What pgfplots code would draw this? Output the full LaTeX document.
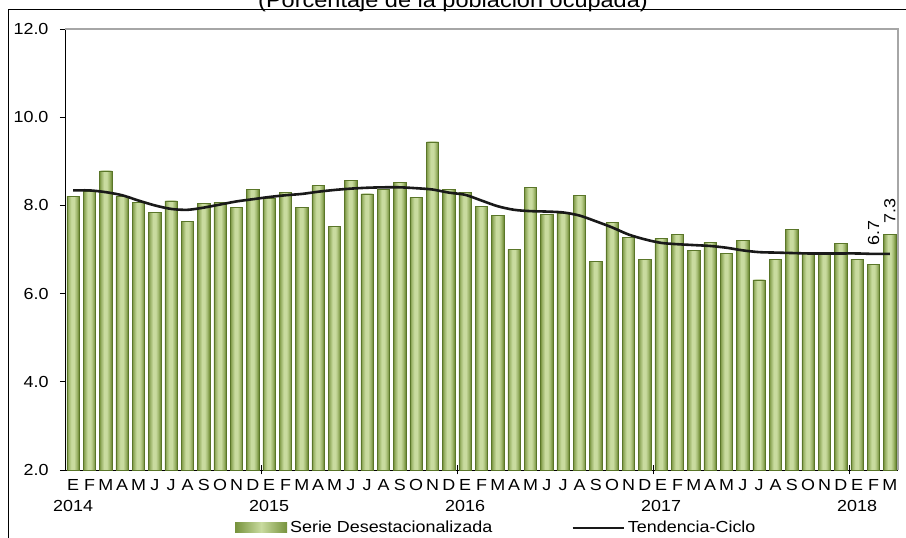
\documentclass[border=0pt]{standalone}
\usepackage{fontspec}
\setmainfont{Liberation Sans}[FakeStretch=1.12]
\usepackage{pgfplots}
\pgfplotsset{compat=1.18}
\usepackage{pgfplotstable}
\definecolor{bardark}{HTML}{76923C}
\definecolor{barlight}{HTML}{C9DB9F}
\definecolor{baredge}{HTML}{5A7629}
\definecolor{framegray}{HTML}{A6A6A6}

\pgfplotstableread{
x y
0 8.21
1 8.32
2 8.78
3 8.20
4 8.06
5 7.85
6 8.10
7 7.63
8 8.05
9 8.07
10 7.95
11 8.36
12 8.17
13 8.29
14 7.96
15 8.45
16 7.52
17 8.56
18 8.26
19 8.37
20 8.53
21 8.18
22 9.44
23 8.37
24 8.29
25 7.97
26 7.78
27 7.00
28 8.41
29 7.80
30 7.81
31 8.23
32 6.72
33 7.61
34 7.28
35 6.77
36 7.25
37 7.34
38 6.98
39 7.16
40 6.91
41 7.21
42 6.31
43 6.78
44 7.45
45 6.91
46 6.91
47 7.13
48 6.78
49 6.66
50 7.34
}\bars

\pgfplotstableread{
x y
0 8.34
1 8.34
2 8.30
3 8.23
4 8.11
5 8.00
6 7.92
7 7.90
8 7.95
9 8.02
10 8.09
11 8.14
12 8.19
13 8.23
14 8.26
15 8.31
16 8.35
17 8.38
18 8.40
19 8.41
20 8.41
21 8.39
22 8.36
23 8.29
24 8.24
25 8.11
26 7.98
27 7.90
28 7.87
29 7.86
30 7.84
31 7.77
32 7.64
33 7.50
34 7.34
35 7.23
36 7.15
37 7.12
38 7.10
39 7.08
40 7.04
41 6.98
42 6.94
43 6.93
44 6.92
45 6.91
46 6.91
47 6.91
48 6.91
49 6.90
50 6.90
}\trend

\begin{document}
\fontsize{16}{21}\selectfont
\begin{tikzpicture}[x=1pt,y=1pt]
\path[use as bounding box] (0,0) rectangle (906,538);
\draw[black, line width=1pt] (8,-20) -- (8,528) -- (930,528);
\node[anchor=base, inner sep=0pt, font=\fontsize{21}{24}\selectfont] at (453,530) {(Porcentaje de la población ocupada)};
\begin{axis}[
  at={(65pt,68pt)}, anchor=south west,
  scale only axis, width=833pt, height=441pt,
  xmin=-0.5, xmax=50.5, ymin=2, ymax=12,
  axis lines*=left,
  axis line style={black, line width=0.8pt},
  tick align=outside,
  major tick length=5pt,
  ytick={2,4,6,8,10,12},
  ytick style={black, line width=0.8pt},
  /pgf/number format/assume math mode=true,
  yticklabel style={/pgf/number format/fixed, /pgf/number format/fixed zerofill, /pgf/number format/precision=1, xshift=-6pt},
  xtick={0,...,50},
  xtick style={draw=none},
  xticklabels={{E\\2014},F,M,A,M,J,J,A,S,O,N,D,{E\\2015},F,M,A,M,J,J,A,S,O,N,D,{E\\2016},F,M,A,M,J,J,A,S,O,N,D,{E\\2017},F,M,A,M,J,J,A,S,O,N,D,{E\\2018},F,M},
  xticklabel style={align=center, inner sep=1pt, yshift=-3pt},
  extra x ticks={11.5,23.5,35.5,47.5},
  extra x tick labels={},
  extra x tick style={xtick style={draw=black, line width=0.8pt}, tick align=center, major tick length=9pt},
  legend columns=2,
  legend cell align=left,
  legend style={draw=none, fill=none, inner sep=0pt, at={(0.204,-0.1315)}, anchor=west,
    nodes={inner sep=3pt},
    /tikz/every even column/.append style={column sep=76pt}},
  clip=false,
]
\addplot[ybar, bar width=12.5pt, bar shift=0pt, fill=bardark, draw=none,
  legend image code/.code={\draw[draw=none, left color=bardark, right color=bardark, middle color=barlight] (0pt,-5pt) rectangle (52pt,5pt);}]
  table[x=x,y=y] {\bars};
\addlegendentry{Serie Desestacionalizada}
\addplot[ybar, bar width=11pt, bar shift=0pt, fill=barlight!20!bardark, draw=none, forget plot] table[x=x,y=y] {\bars};
\addplot[ybar, bar width=9.5pt, bar shift=0pt, fill=barlight!40!bardark, draw=none, forget plot] table[x=x,y=y] {\bars};
\addplot[ybar, bar width=8pt, bar shift=0pt, fill=barlight!57!bardark, draw=none, forget plot] table[x=x,y=y] {\bars};
\addplot[ybar, bar width=6.5pt, bar shift=0pt, fill=barlight!72!bardark, draw=none, forget plot] table[x=x,y=y] {\bars};
\addplot[ybar, bar width=5pt, bar shift=0pt, fill=barlight!86!bardark, draw=none, forget plot] table[x=x,y=y] {\bars};
\addplot[ybar, bar width=3.5pt, bar shift=0pt, fill=barlight, draw=none, forget plot] table[x=x,y=y] {\bars};
\addplot[ybar, bar width=12.5pt, bar shift=0pt, fill=none, draw=baredge, line width=0.7pt, forget plot] table[x=x,y=y] {\bars};
\addplot[black!90, line width=2.6pt, smooth, mark=none,
  legend image code/.code={\draw[black!90, line width=2.6pt] (0pt,0pt) -- (51pt,0pt);}]
  table[x=x,y=y] {\trend};
\addlegendentry{Tendencia-Ciclo}
\draw[framegray, line width=1.2pt] (rel axis cs:0,1) -- (rel axis cs:1,1) -- (rel axis cs:1,0);
\node[rotate=90, anchor=west, inner sep=0pt] at (axis cs:49,6.66) [xshift=19pt] {6.7};
\node[rotate=90, anchor=west, inner sep=0pt] at (axis cs:50,7.34) [xshift=11pt] {7.3};
\end{axis}
\end{tikzpicture}
\end{document}
